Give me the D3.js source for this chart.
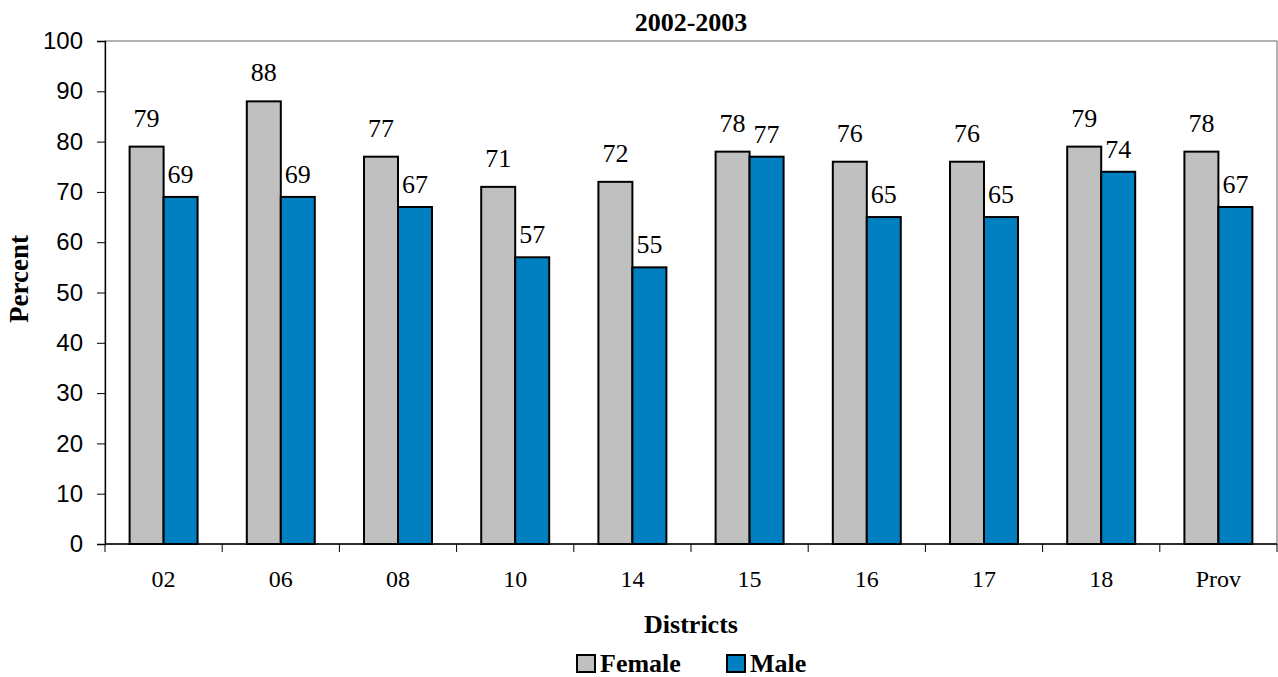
<!DOCTYPE html>
<html>
<head>
<meta charset="utf-8">
<script src="https://cdn.jsdelivr.net/npm/d3@7"></script>
<style>
  html, body { margin: 0; padding: 0; background: #fff; }
  svg { display: block; }
</style>
</head>
<body>
<svg id="chart" width="1278" height="677"></svg>
<script>
const categories = ["02", "06", "08", "10", "14", "15", "16", "17", "18", "Prov"];
const seriesNames = ["Female", "Male"];
const female = [79, 88, 77, 71, 72, 78, 76, 76, 79, 78];
const male = [69, 69, 67, 57, 55, 77, 65, 65, 74, 67];
const yTicks = [0, 10, 20, 30, 40, 50, 60, 70, 80, 90, 100];
const title = "2002-2003";
const xTitle = "Districts";
const yTitle = "Percent";

const colors = { Female: "#C0C0C0", Male: "#0080C0" };
const labelOffset = { Female: 20, Male: 14 };

const svg = d3.select("#chart");
const mLeft = 105, mRight = 1277, mTop = 41, mBottom = 544;

const x0 = d3.scaleBand().domain(categories).range([mLeft, mRight]).padding(0);
const x1 = d3.scaleBand().domain(seriesNames)
  .range([x0.bandwidth() * 0.21, x0.bandwidth() * 0.79]).padding(0);
const y = d3.scaleLinear().domain([0, 100]).range([mBottom, mTop]);

const data = categories.map((c, i) => ({ cat: c, Female: female[i], Male: male[i] }));

// plot border (top/right)
svg.append("rect")
  .attr("x", mLeft).attr("y", mTop)
  .attr("width", mRight - mLeft).attr("height", mBottom - mTop)
  .attr("fill", "none").attr("stroke", "#808080").attr("stroke-width", 1.2);

// bars
const groups = svg.append("g").selectAll("g").data(data).join("g")
  .attr("transform", d => `translate(${x0(d.cat)},0)`);

groups.selectAll("rect").data(d => seriesNames.map(s => ({ s, v: d[s] }))).join("rect")
  .attr("x", d => x1(d.s))
  .attr("y", d => y(d.v))
  .attr("width", x1.bandwidth())
  .attr("height", d => y(0) - y(d.v))
  .attr("fill", d => colors[d.s])
  .attr("stroke", "#000").attr("stroke-width", 2);

groups.selectAll("text").data(d => seriesNames.map(s => ({ s, v: d[s] }))).join("text")
  .attr("x", d => x1(d.s) + x1.bandwidth() / 2)
  .attr("y", d => y(d.v) - labelOffset[d.s])
  .attr("text-anchor", "middle")
  .attr("font-family", "'Liberation Serif', 'Times New Roman', serif")
  .attr("font-size", 26)
  .attr("fill", "#000")
  .text(d => d.v);

// y axis
const yAxis = svg.append("g").attr("transform", `translate(${mLeft},0)`)
  .call(d3.axisLeft(y).tickValues(yTicks).tickSize(8).tickPadding(14));
yAxis.select(".domain").attr("stroke", "#000").attr("stroke-width", 1.3);
yAxis.selectAll(".tick line").attr("stroke", "#000").attr("stroke-width", 1);
yAxis.selectAll("text")
  .attr("font-family", "'Liberation Sans', Arial, sans-serif")
  .attr("font-size", 24).attr("fill", "#000");

// x axis
const xAxisG = svg.append("g").attr("transform", `translate(0,${mBottom})`);
xAxisG.append("line").attr("x1", mLeft).attr("x2", mRight).attr("y1", 0).attr("y2", 0)
  .attr("stroke", "#000").attr("stroke-width", 1.3);
const boundaries = categories.map(c => x0(c)).concat([mRight]);
xAxisG.selectAll("line.tk").data(boundaries).join("line").attr("class", "tk")
  .attr("x1", d => d).attr("x2", d => d).attr("y1", 0).attr("y2", 8)
  .attr("stroke", "#000").attr("stroke-width", 1);
xAxisG.selectAll("text").data(categories).join("text")
  .attr("x", d => x0(d) + x0.bandwidth() / 2)
  .attr("y", 43)
  .attr("text-anchor", "middle")
  .attr("font-family", "'Liberation Serif', 'Times New Roman', serif")
  .attr("font-size", 24).attr("fill", "#000")
  .text(d => d);

// title
svg.append("text").attr("x", (mLeft + mRight) / 2).attr("y", 31)
  .attr("text-anchor", "middle")
  .attr("font-family", "'Liberation Serif', 'Times New Roman', serif")
  .attr("font-weight", "bold").attr("font-size", 26).text(title);

// axis titles
svg.append("text").attr("x", (mLeft + mRight) / 2).attr("y", 633)
  .attr("text-anchor", "middle")
  .attr("font-family", "'Liberation Serif', 'Times New Roman', serif")
  .attr("font-weight", "bold").attr("font-size", 26).text(xTitle);

svg.append("text").attr("transform", "translate(28,279) rotate(-90)")
  .attr("text-anchor", "middle")
  .attr("font-family", "'Liberation Serif', 'Times New Roman', serif")
  .attr("font-weight", "bold").attr("font-size", 27).text(yTitle);

// legend
const legendX = [577, 727];
const legend = svg.append("g").selectAll("g").data(seriesNames).join("g")
  .attr("transform", (d, i) => `translate(${legendX[i]},655)`);
legend.append("rect").attr("x", 0).attr("y", 0).attr("width", 18).attr("height", 17)
  .attr("fill", d => colors[d]).attr("stroke", "#000").attr("stroke-width", 2);
legend.append("text").attr("x", 23).attr("y", 17)
  .attr("font-family", "'Liberation Serif', 'Times New Roman', serif")
  .attr("font-weight", "bold").attr("font-size", 26).text(d => d);
</script>
</body>
</html>
